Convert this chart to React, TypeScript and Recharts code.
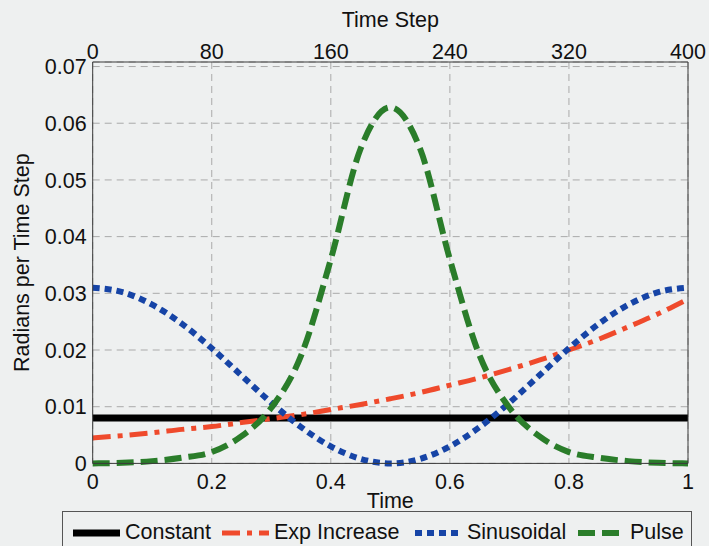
import React from "react";
import { CartesianGrid, Line, LineChart, XAxis, YAxis } from "recharts";

const time = [0, 0.05, 0.1, 0.15, 0.2, 0.25, 0.3, 0.35, 0.4, 0.45, 0.5, 0.55, 0.6, 0.65, 0.7, 0.75, 0.8, 0.85, 0.9, 0.95, 1];
const constant = [0.008, 0.008, 0.008, 0.008, 0.008, 0.008, 0.008, 0.008, 0.008, 0.008, 0.008, 0.008, 0.008, 0.008, 0.008, 0.008, 0.008, 0.008, 0.008, 0.008, 0.008];
const expIncrease = [0.0045, 0.0049, 0.0054, 0.006, 0.0065, 0.0072, 0.0079, 0.0086, 0.0095, 0.0104, 0.0114, 0.0125, 0.0138, 0.0151, 0.0166, 0.0182, 0.02, 0.0219, 0.0241, 0.0264, 0.029];
const sinusoidal = [0.031, 0.0302, 0.028, 0.0246, 0.0203, 0.0155, 0.0107, 0.0064, 0.003, 0.0008, 0, 0.0008, 0.003, 0.0064, 0.0107, 0.0155, 0.0203, 0.0246, 0.028, 0.0302, 0.031];
const pulse = [0, 0.0001, 0.0004, 0.001, 0.002, 0.0048, 0.0098, 0.019, 0.036, 0.0555, 0.0628, 0.0555, 0.036, 0.019, 0.0098, 0.0048, 0.002, 0.001, 0.0004, 0.0001, 0];

const timeTicks = [0, 0.2, 0.4, 0.6, 0.8, 1];
const stepTicks = [0, 80, 160, 240, 320, 400];
const yTicks = [0, 0.01, 0.02, 0.03, 0.04, 0.05, 0.06, 0.07];

const data = time.map((t, i) => ({
  t,
  step: t * 400,
  constant: constant[i],
  exp: expIncrease[i],
  sin: sinusoidal[i],
  pulse: pulse[i],
}));

const FONT = "'Liberation Sans', Arial, sans-serif";
const BG = "#eef0f0";
const AXIS = "#3a3a3a";

const series = [
  { key: "constant", name: "Constant", color: "#000000", width: 7, dash: undefined },
  { key: "exp", name: "Exp Increase", color: "#ef4a2c", width: 5, dash: "18 7 5 7" },
  { key: "sin", name: "Sinusoidal", color: "#1644a6", width: 6, dash: "7 5" },
  { key: "pulse", name: "Pulse", color: "#2a7d2a", width: 6, dash: "17 7" },
];

const tickStyle = { fill: "#111", fontSize: 21.5, fontFamily: FONT };

const LegendBox = () => (
  <div
    style={{
      position: "absolute",
      left: 62,
      top: 511,
      width: 630,
      height: 50,
      border: "1px solid #555",
      boxSizing: "border-box",
      background: BG,
      fontFamily: FONT,
      fontSize: 21.5,
      color: "#111",
    }}
  >
    {series.map((s, i) => {
      const lefts = [10, 159, 352, 515];
      return (
        <div key={s.key} style={{ position: "absolute", left: lefts[i], top: 8, display: "flex", alignItems: "center", whiteSpace: "nowrap" }}>
          <svg width={47} height={12} style={{ marginRight: 5 }}>
            <line x1={0} y1={6} x2={47} y2={6} stroke={s.color} strokeWidth={s.width} strokeDasharray={s.dash} />
          </svg>
          <span>{s.name}</span>
        </div>
      );
    })}
  </div>
);

const App: React.FunctionComponent = () => {
  return (
    <div style={{ position: "fixed", left: 0, top: 0, width: 709, height: 546, background: BG, overflow: "hidden" }}>
      <LineChart width={709} height={546} data={data} margin={{ top: 0, right: 0, left: 0, bottom: 0 }}>
        <CartesianGrid xAxisId="bottom" yAxisId="left" stroke="#aaaaaa" strokeDasharray="7 5" />
        <XAxis
          xAxisId="top"
          orientation="top"
          dataKey="step"
          type="number"
          domain={[0, 400]}
          ticks={stepTicks}
          height={62}
          tickSize={0}
          tickMargin={3}
          tick={tickStyle}
          axisLine={{ stroke: AXIS }}
          label={{ value: "Time Step", position: "insideTop", offset: 12, style: { ...tickStyle } }}
        />
        <XAxis
          xAxisId="bottom"
          dataKey="t"
          type="number"
          domain={[0, 1]}
          ticks={timeTicks}
          height={82.6}
          tickSize={0}
          tickMargin={10}
          tick={tickStyle}
          tickFormatter={(v: number) => String(v)}
          axisLine={{ stroke: AXIS }}
          label={{ value: "Time", position: "insideBottom", offset: 38, style: { ...tickStyle } }}
        />
        <YAxis
          yAxisId="left"
          type="number"
          domain={[0, 0.0708]}
          ticks={yTicks}
          width={92.7}
          tickSize={0}
          tickMargin={6}
          tick={tickStyle}
          tickFormatter={(v: number) => (v === 0 ? "0" : v.toFixed(2))}
          axisLine={{ stroke: AXIS }}
          label={{ value: "Radians per Time Step", angle: -90, position: "insideLeft", offset: 21, style: { ...tickStyle, textAnchor: "middle" } }}
        />
        <YAxis yAxisId="right" orientation="right" type="number" domain={[0, 0.0708]} width={21} tick={false} tickLine={false} axisLine={{ stroke: AXIS }} />
        {series.map((s) => (
          <Line
            key={s.key}
            xAxisId="bottom"
            yAxisId="left"
            type="monotone"
            dataKey={s.key}
            name={s.name}
            stroke={s.color}
            strokeWidth={s.width}
            strokeDasharray={s.dash}
            dot={false}
            activeDot={false}
            isAnimationActive={false}
          />
        ))}
      </LineChart>
      <LegendBox />
    </div>
  );
};

export default App;
